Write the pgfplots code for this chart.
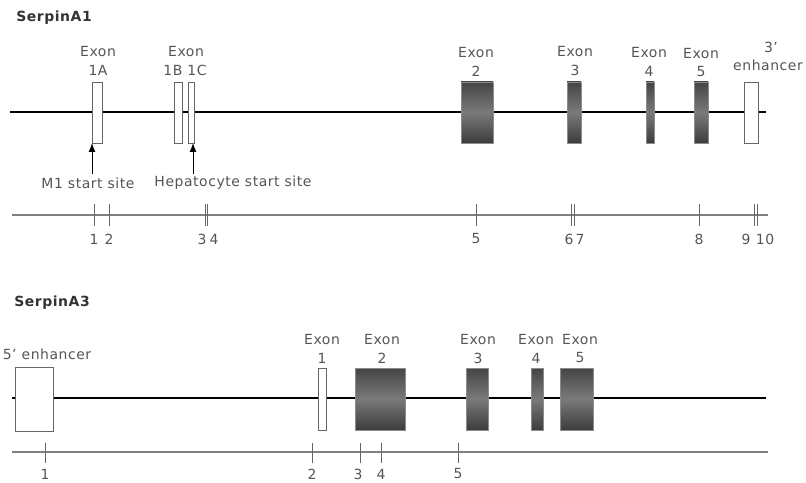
\documentclass[border=0pt]{standalone}
\usepackage{pgfplots}
\pgfplotsset{compat=1.18}
\usetikzlibrary{arrows.meta}
\usepackage{fontspec}
\setmainfont{DejaVu Sans}[LetterSpace=4]
\definecolor{txt}{HTML}{555555}
\definecolor{ttl}{HTML}{333333}
\definecolor{boxedge}{HTML}{666666}
\definecolor{scl}{HTML}{808080}
\definecolor{dtop}{HTML}{454545}
\definecolor{dmid}{HTML}{7A7A7A}
\definecolor{dbot}{HTML}{3C3C3C}
\tikzset{
  lbl/.style={font=\fontsize{14}{16}\selectfont, text=txt, inner sep=0pt, anchor=center},
  ttlstyle/.style={font=\bfseries\fontsize{14}{16}\selectfont, text=ttl, inner sep=0pt, anchor=center},
  num/.style={font=\fontsize{14}{16}\selectfont, text=txt, inner sep=0pt, anchor=center},
}
\pgfplotsset{
  whitebox/.style={draw=boxedge, fill=white, line width=1pt, line join=miter},
  darkbox/.style={draw=black!45, line width=0.8pt, top color=dtop, bottom color=dbot, middle color=dmid, line join=miter},
  mainline/.style={black, line width=2.6pt},
  scaleline/.style={scl, line width=1.2pt},
  tick/.style={black!60, line width=1pt},
}
\begin{document}
\begin{tikzpicture}
\begin{axis}[
  width=806bp, height=483bp, scale only axis,
  xmin=0, xmax=806, ymin=0, ymax=483, y dir=reverse,
  axis lines=none, clip=false,
]
\addplot[draw=none] coordinates {(0,0) (806,483)};
% ---------------- SerpinA1 ----------------
\addplot[mainline] coordinates {(10,112) (766,112)};
% white boxes
\addplot[whitebox] coordinates {(92,82) (102,82) (102,143) (92,143) (92,82)};
\addplot[whitebox] coordinates {(174,82) (182,82) (182,143) (174,143) (174,82)};
\addplot[whitebox] coordinates {(188,82) (194,82) (194,143) (188,143) (188,82)};
\addplot[whitebox] coordinates {(744,82) (758,82) (758,143) (744,143) (744,82)};
% dark exons
\addplot[darkbox] coordinates {(461,82) (493,82) (493,143) (461,143) (461,82)};
\addplot[darkbox] coordinates {(567,82) (581,82) (581,143) (567,143) (567,82)};
\addplot[darkbox] coordinates {(646,82) (654,82) (654,143) (646,143) (646,82)};
\addplot[darkbox] coordinates {(694,82) (708,82) (708,143) (694,143) (694,82)};
% arrows
\addplot[black, line width=1pt, -{Latex[length=9pt,width=7pt]}] coordinates {(92,174) (92,143)};
\addplot[black, line width=1pt, -{Latex[length=9pt,width=7pt]}] coordinates {(193,174) (193,143)};
% scale
\addplot[scaleline] coordinates {(12,215) (768,215)};
\addplot[tick] coordinates {(94,204) (94,226)};
\addplot[tick] coordinates {(109,204) (109,226)};
\addplot[tick] coordinates {(205,204) (205,226)};
\addplot[tick] coordinates {(207,204) (207,226)};
\addplot[tick] coordinates {(476,204) (476,226)};
\addplot[tick] coordinates {(571,204) (571,226)};
\addplot[tick] coordinates {(574,204) (574,226)};
\addplot[tick] coordinates {(699,204) (699,226)};
\addplot[tick] coordinates {(754,204) (754,226)};
\addplot[tick] coordinates {(757,204) (757,226)};
% texts
\node[ttlstyle] at (axis cs:54,18) {SerpinA1};
\node[lbl] at (axis cs:98,52) {Exon};
\node[lbl] at (axis cs:98,70) {1A};
\node[lbl] at (axis cs:186,52) {Exon};
\node[lbl] at (axis cs:185,70) {1B 1C};
\node[lbl] at (axis cs:476,53) {Exon};
\node[lbl] at (axis cs:476,71) {2};
\node[lbl] at (axis cs:575,52) {Exon};
\node[lbl] at (axis cs:575,70) {3};
\node[lbl] at (axis cs:649,53) {Exon};
\node[lbl] at (axis cs:649,71) {4};
\node[lbl] at (axis cs:701,54) {Exon};
\node[lbl] at (axis cs:701,72) {5};
\node[lbl] at (axis cs:771,47) {3'};
\node[lbl] at (axis cs:768,65) {enhancer};
\node[lbl] at (axis cs:88,183) {M1 start site};
\node[lbl] at (axis cs:233,183) {Hepatocyte start site};
\node[num] at (axis cs:94,239) {1};
\node[num] at (axis cs:109,239) {2};
\node[num] at (axis cs:202,239) {3};
\node[num] at (axis cs:214,239) {4};
\node[num] at (axis cs:476,239) {5};
\node[num] at (axis cs:569,239) {6};
\node[num] at (axis cs:580,239) {7};
\node[num] at (axis cs:699,239) {8};
\node[num] at (axis cs:746,239) {9};
\node[num] at (axis cs:765,239) {10};
% ---------------- SerpinA3 ----------------
\addplot[mainline] coordinates {(12,398) (766,398)};
\addplot[whitebox] coordinates {(15,367) (53,367) (53,431) (15,431) (15,367)};
\addplot[whitebox] coordinates {(318,368) (326,368) (326,430) (318,430) (318,368)};
\addplot[darkbox] coordinates {(355,368) (405,368) (405,430) (355,430) (355,368)};
\addplot[darkbox] coordinates {(466,368) (488,368) (488,430) (466,430) (466,368)};
\addplot[darkbox] coordinates {(531,368) (543,368) (543,430) (531,430) (531,368)};
\addplot[darkbox] coordinates {(560,368) (593,368) (593,430) (560,430) (560,368)};
\addplot[scaleline] coordinates {(12,452) (768,452)};
\addplot[tick] coordinates {(45,443) (45,463)};
\addplot[tick] coordinates {(312,443) (312,463)};
\addplot[tick] coordinates {(360,443) (360,463)};
\addplot[tick] coordinates {(381,443) (381,463)};
\addplot[tick] coordinates {(458,443) (458,463)};
\node[ttlstyle] at (axis cs:52,303) {SerpinA3};
\node[lbl] at (axis cs:47,354) {5' enhancer};
\node[lbl] at (axis cs:322,340) {Exon};
\node[lbl] at (axis cs:322,358) {1};
\node[lbl] at (axis cs:382,340) {Exon};
\node[lbl] at (axis cs:382,358) {2};
\node[lbl] at (axis cs:478,340) {Exon};
\node[lbl] at (axis cs:478,358) {3};
\node[lbl] at (axis cs:536,340) {Exon};
\node[lbl] at (axis cs:536,358) {4};
\node[lbl] at (axis cs:580,340) {Exon};
\node[lbl] at (axis cs:580,358) {5};
\node[num] at (axis cs:45,474) {1};
\node[num] at (axis cs:312,474) {2};
\node[num] at (axis cs:358,474) {3};
\node[num] at (axis cs:381,474) {4};
\node[num] at (axis cs:458,474) {5};
\end{axis}
\end{tikzpicture}
\end{document}
